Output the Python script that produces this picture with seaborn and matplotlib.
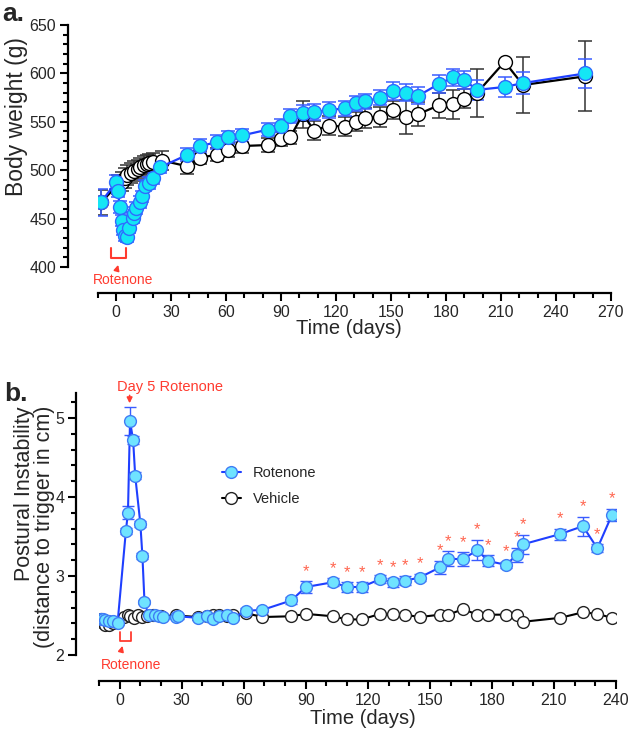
import numpy as np
import pandas as pd
import matplotlib
matplotlib.use("Agg")
import matplotlib.pyplot as plt
from matplotlib.lines import Line2D
from matplotlib.ticker import MultipleLocator
import seaborn as sns

# ------------------------------------------------------------------
# Data
# ------------------------------------------------------------------
# a. body weight
rot_a_days = [-8, 0, 1, 2, 3, 4, 5, 6, 7, 9, 10, 11, 13, 14, 16, 18, 20, 24,
              39, 46, 55, 61, 69, 83, 90, 95, 102, 108, 116, 125, 131, 136,
              144, 151, 158, 165, 176, 184, 190, 197, 212, 222, 256]
rot_a_mean = [467, 488, 479, 462, 448, 438, 432, 431, 440, 451, 456, 461, 467,
              473, 484, 487, 492, 503, 516, 525, 529, 534, 536, 542, 546, 556,
              559, 560, 562, 564, 569, 571, 575, 582, 580, 577, 589, 596, 593,
              583, 586, 590, 600]
rot_a_sem = [14, 7, 7, 6, 6, 5, 5, 5, 5, 6, 6, 6, 6, 6, 6, 6, 6, 6,
             7, 7, 7, 7, 7, 7, 7, 7, 8, 8, 8, 8, 8, 8, 8, 9, 9, 9, 9, 9, 9,
             10, 10, 11, 15]

veh_a_days = [-8, 1, 3, 5, 6, 8, 10, 12, 13, 15, 17, 18, 20, 25,
              39, 46, 55, 61, 69, 83, 90, 95, 102, 108, 116, 125, 131, 136,
              144, 151, 158, 165, 176, 184, 190, 197, 212, 222, 256]
veh_a_mean = [467, 485, 488, 492, 495, 497, 499, 501, 503, 505, 506, 507, 508,
              510, 504, 513, 516, 521, 525, 526, 532, 534, 558, 541, 546, 545,
              550, 554, 555, 562, 555, 558, 567, 568, 574, 580, 612, 588, 597]
veh_a_sem = [13, 10, 10, 10, 10, 10, 10, 10, 10, 10, 10, 10, 10, 10,
             8, 7, 7, 7, 7, 7, 7, 7, 14, 10, 10, 10, 10, 10, 10, 9, 18, 12,
             13, 15, 10, 25, 0, 29, 36]

# b. postural instability
rot_b_days = [-9, -8, -7, -5, -3, -1, 3, 4, 5, 6.5, 7.5, 10, 11, 12, 14, 17,
              19, 21, 27, 28, 38, 42, 45, 48, 52, 55, 61, 69, 83, 90, 103, 110,
              117, 126, 132, 138, 145, 155, 159, 166, 173, 178, 187, 192, 195,
              213, 224, 231, 238]
rot_b_mean = [2.46, 2.45, 2.44, 2.43, 2.43, 2.41, 3.57, 3.80, 4.96, 4.72, 4.27,
              3.66, 3.25, 2.67, 2.50, 2.51, 2.49, 2.48, 2.48, 2.49, 2.47, 2.49,
              2.45, 2.49, 2.50, 2.47, 2.56, 2.57, 2.69, 2.86, 2.92, 2.86, 2.86,
              2.96, 2.92, 2.94, 2.98, 3.11, 3.22, 3.21, 3.33, 3.19, 3.14, 3.27,
              3.40, 3.53, 3.63, 3.35, 3.77]
rot_b_sem = [0.03, 0.03, 0.03, 0.03, 0.03, 0.03, 0.04, 0.08, 0.18, 0.05, 0.04,
             0.04, 0.04, 0.03, 0.03, 0.03, 0.03, 0.03, 0.03, 0.03, 0.03, 0.03,
             0.03, 0.03, 0.03, 0.03, 0.03, 0.03, 0.04, 0.07, 0.05, 0.06, 0.06,
             0.05, 0.06, 0.06, 0.05, 0.08, 0.09, 0.09, 0.13, 0.07, 0.04, 0.09,
             0.12, 0.07, 0.12, 0.05, 0.08]

veh_b_days = [-9, -8, -7, -5, -3, 2, 4, 5, 7, 9, 11, 13, 16, 20, 27, 38, 42,
              45, 48, 52, 55, 61, 69, 83, 90, 103, 110, 117, 126, 132, 138,
              145, 155, 159, 166, 173, 178, 187, 192, 195, 213, 224, 231, 238]
veh_b_mean = [2.45, 2.41, 2.38, 2.38, 2.40, 2.48, 2.50, 2.49, 2.47, 2.50, 2.48,
              2.49, 2.50, 2.49, 2.50, 2.48, 2.49, 2.50, 2.50, 2.49, 2.50, 2.53,
              2.48, 2.49, 2.52, 2.49, 2.45, 2.45, 2.52, 2.52, 2.51, 2.48, 2.51,
              2.51, 2.58, 2.51, 2.51, 2.51, 2.51, 2.42, 2.47, 2.54, 2.52, 2.47]

# jours significatifs (astérisques)
sig_from_day = 90

# ------------------------------------------------------------------
# Style
# ------------------------------------------------------------------
sns.set_theme(style="ticks")
plt.rcParams["font.family"] = ["Liberation Sans", "DejaVu Sans"]

ROT_LINE = "#1f3fff"
ROT_EDGE_A = "#2f6bff"
ROT_FILL_A = "#14e6f5"
ROT_EDGE_B = "#3f7cf5"
ROT_FILL_B = "#6fe3ff"
ROT_ERR = "#3a5cff"
VEH_ERR = "#333333"
RED = "#ff3b2f"
STAR = "#ff6650"

fig = plt.figure(figsize=(6.33, 7.4), dpi=100)
ax_a = fig.add_axes([0.1543, 0.6392, 0.8109, 0.3270])
ax_b = fig.add_axes([0.1564, 0.1149, 0.8167, 0.3545])


def style_axes(ax, left_off, bottom_off):
    sns.despine(ax=ax, offset=dict(left=left_off, bottom=bottom_off))
    for s in ("left", "bottom"):
        ax.spines[s].set_linewidth(1.6)
        ax.spines[s].set_color("black")
    ax.tick_params(which="major", direction="out", length=5.5, width=1.5,
                   labelsize=11.5, color="black", pad=3)
    ax.tick_params(which="minor", direction="out", length=3.5, width=1.5,
                   color="black")
    ax.set_facecolor("white")


# ------------------------------------------------------------------
# a. Body weight
# ------------------------------------------------------------------
ax = ax_a
ax.errorbar(veh_a_days, veh_a_mean, yerr=veh_a_sem, fmt="none", ecolor=VEH_ERR,
            elinewidth=1.1, capsize=5, capthick=1.1, zorder=2)
ax.errorbar(rot_a_days, rot_a_mean, yerr=rot_a_sem, fmt="none", ecolor=ROT_ERR,
            elinewidth=1.1, capsize=5, capthick=1.1, zorder=3)
sns.lineplot(x=veh_a_days, y=veh_a_mean, ax=ax, color="black", linewidth=1.6,
             marker="o", markersize=10, markerfacecolor="white",
             markeredgecolor="black", markeredgewidth=1.0, zorder=4)
sns.lineplot(x=rot_a_days, y=rot_a_mean, ax=ax, color=ROT_LINE, linewidth=1.6,
             marker="o", markersize=10, markerfacecolor=ROT_FILL_A,
             markeredgecolor=ROT_EDGE_A, markeredgewidth=1.0, zorder=5)
ax.set_xlim(-10, 270)
ax.set_ylim(400, 650)
ax.xaxis.set_major_locator(MultipleLocator(30))
ax.xaxis.set_minor_locator(MultipleLocator(10))
ax.yaxis.set_major_locator(MultipleLocator(50))
ax.yaxis.set_minor_locator(MultipleLocator(10))
style_axes(ax, 21.4, 18.7)
ax.set_xlabel("Time (days)", fontsize=14.5)
ax.set_ylabel("Body weight (g)", fontsize=16.5)
ax.xaxis.set_label_coords(0.49, -0.215)
ax.yaxis.set_label_coords(-0.136, 0.62)

# annotation rotenone
ax.plot([-2.7, -2.7, 5.5, 5.5], [419.6, 409.3, 409.3, 419.6], color=RED,
        lw=1.5, clip_on=False)
ax.annotate("", xy=(1.6, 405), xytext=(0, 394), xycoords="data",
            arrowprops=dict(arrowstyle="-|>", color=RED, lw=1.2,
                            mutation_scale=8), annotation_clip=False)
ax.text(4, 386.5, "Rotenone", color=RED, fontsize=10, ha="center",
        va="center", clip_on=False)

# ------------------------------------------------------------------
# b. Postural instability
# ------------------------------------------------------------------
ax = ax_b
ax.errorbar(rot_b_days, rot_b_mean, yerr=rot_b_sem, fmt="none", ecolor=ROT_ERR,
            elinewidth=1.0, capsize=4.5, capthick=1.0, zorder=3)
sns.lineplot(x=veh_b_days, y=veh_b_mean, ax=ax, color="black", linewidth=1.5,
             marker="o", markersize=8.5, markerfacecolor="white",
             markeredgecolor="#222222", markeredgewidth=1.0, zorder=4)
sns.lineplot(x=rot_b_days, y=rot_b_mean, ax=ax, color=ROT_LINE, linewidth=1.5,
             marker="o", markersize=8.5, markerfacecolor=ROT_FILL_B,
             markeredgecolor=ROT_EDGE_B, markeredgewidth=1.0, zorder=5)

for d, m, e in zip(rot_b_days, rot_b_mean, rot_b_sem):
    if d >= sig_from_day:
        ax.text(d, m + e + 0.03, "*", color=STAR, fontsize=12, ha="center",
                va="bottom", zorder=6)

ax.set_xlim(-10, 240)
ax.set_ylim(2, 5.32)
ax.xaxis.set_major_locator(MultipleLocator(30))
ax.xaxis.set_minor_locator(MultipleLocator(10))
ax.yaxis.set_major_locator(MultipleLocator(1))
ax.yaxis.set_minor_locator(MultipleLocator(0.2))
style_axes(ax, 16.6, 18.7)
ax.set_xlabel("Time (days)", fontsize=14.5)
ax.set_ylabel("Postural Instability\n(distance to trigger in cm)", fontsize=15.5,
              linespacing=0.95, multialignment="right")
ax.xaxis.set_label_coords(0.51, -0.205)
ax.yaxis.set_label_coords(-0.085, 0.487)

# annotations
ax.plot([0, 0, 5.3, 5.3], [2.29, 2.173, 2.173, 2.29], color=RED, lw=1.3,
        clip_on=False)
ax.annotate("", xy=(1.7, 2.15), xytext=(0.5, 2.03),
            arrowprops=dict(arrowstyle="-|>", color=RED, lw=1.2,
                            mutation_scale=8), annotation_clip=False)
ax.text(5.7, 1.87, "Rotenone", color=RED, fontsize=10, ha="center",
        va="center", clip_on=False)
ax.annotate("", xy=(4.8, 5.15), xytext=(4.8, 5.32),
            arrowprops=dict(arrowstyle="-|>", color=RED, lw=1.2,
                            mutation_scale=8), annotation_clip=False)
ax.text(24.2, 5.39, "Day 5 Rotenone", color=RED, fontsize=10.5, ha="center",
        va="center", clip_on=False)

handles = [
    Line2D([0], [0], color=ROT_LINE, lw=1.5, marker="o", markersize=8.5,
           markerfacecolor=ROT_FILL_B, markeredgecolor=ROT_EDGE_B),
    Line2D([0], [0], color="black", lw=1.5, marker="o", markersize=8.5,
           markerfacecolor="white", markeredgecolor="#222222"),
]
ax.legend(handles, ["Rotenone", "Vehicle"], loc="upper left",
          bbox_to_anchor=(222 / 633, 1 - 466 / 740),
          bbox_transform=fig.transFigure, frameon=False, fontsize=10.5,
          handlelength=1.3, handletextpad=0.8, labelspacing=0.8,
          borderpad=0, borderaxespad=0)

# panel letters
fig.text(0.003, 1 - 21 / 740, "a.", fontsize=19, fontweight="bold",
         va="baseline")
fig.text(0.006, 1 - 401 / 740, "b.", fontsize=19, fontweight="bold",
         va="baseline")

fig.savefig("out.png", dpi=100)
